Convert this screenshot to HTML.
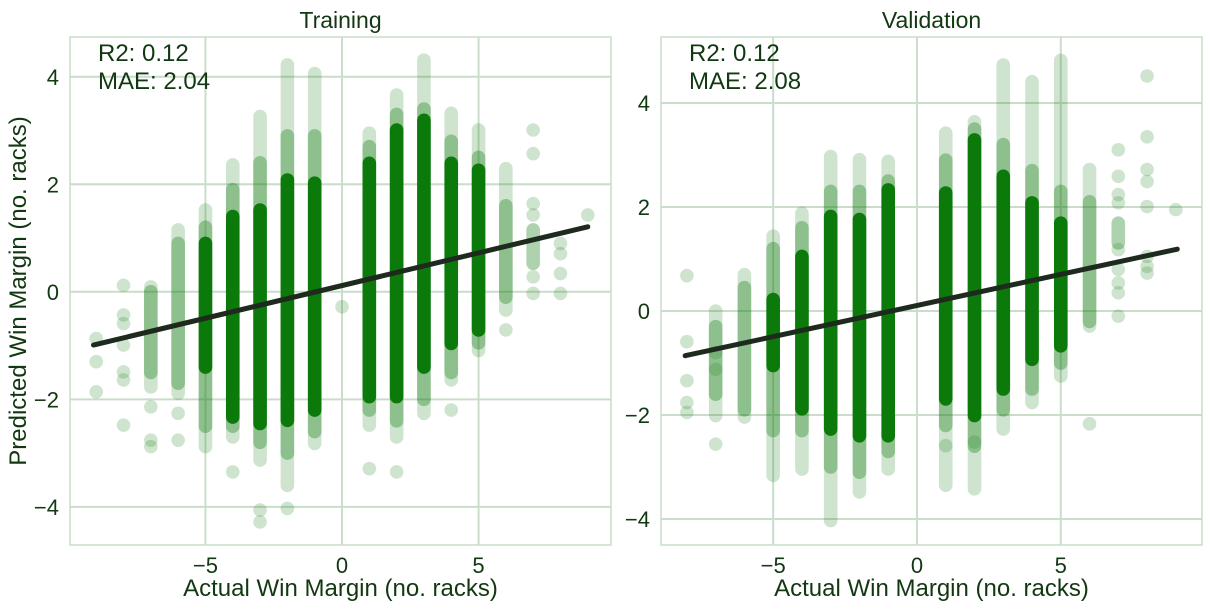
<!DOCTYPE html>
<html><head><meta charset="utf-8"><style>
body{margin:0;background:#fff;}
svg text{font-family:"Liberation Sans",sans-serif;fill:#123812;}
</style></head><body>
<svg id="chart" width="1211" height="611"></svg>
<script>
// ---- Training data ----
const trainX = [-9,-8,-7,-6,-5,-4,-3,-2,-1,0,1,2,3,4,5,6,7,8,9];
const trainFaintHi = [null,null,0.09,1.15,1.52,2.36,3.26,4.22,4.06,null,2.95,3.66,4.31,3.32,3.01,2.29,null,null,null];
const trainFaintLo = [null,null,-1.77,-1.89,-2.88,-2.70,-3.13,-3.6,-2.82,null,-2.48,-2.70,-2.26,-1.64,-1.09,-0.34,null,null,null];
const trainMidHi = [null,null,0.0,0.9,1.2,1.9,2.4,2.9,2.9,null,2.7,3.3,3.4,2.8,2.5,1.6,1.15,null,null];
const trainMidLo = [null,null,-1.5,-1.7,-2.5,-2.5,-2.8,-3.0,-2.6,null,-2.2,-2.4,-2.0,-1.5,-0.95,-0.1,0.53,null,null];
const trainCoreHi = [null,null,null,null,0.9,1.4,1.52,2.08,2.02,null,2.39,3.01,3.19,2.39,2.26,null,null,null,null];
const trainCoreLo = [null,null,null,null,-1.4,-2.33,-2.45,-2.39,-2.2,null,-1.95,-1.95,-1.40,-0.96,-0.71,null,null,null,null];
const trainOutX = [-9,-9,-9,-8,-8,-8,-8,-8,-8,-8,-7,-7,-7,-6,-6,-4,-3,-3,-2,0,1,2,4,6,7,7,7,7,7,7,8,8,8,8,9];
const trainOutY = [-0.87,-1.30,-1.86,0.12,-0.43,-0.59,-0.99,-1.49,-1.64,-2.48,-2.14,-2.76,-2.88,-2.26,-2.76,-3.35,-4.06,-4.28,-4.03,-0.28,-3.29,-3.35,-2.2,-0.71,3.01,2.57,1.64,1.43,0.28,-0.03,0.9,0.71,0.34,-0.03,1.43];
const trainFit = [-9.1, -0.99, 9.0, 1.21];
// ---- Validation data ----
const valX = [-8,-7,-6,-5,-4,-3,-2,-1,1,2,3,4,5,6,7,8,9];
const valFaintHi = [null,0,0.70,1.44,1.88,2.97,2.91,2.88,3.42,3.64,4.73,4.41,4.82,2.72,null,null,null];
const valFaintLo = [null,-2.01,-2.04,-3.16,-3.04,-4.03,-3.48,-3.04,-3.35,-3.42,-2.27,-1.76,-1.25,-0.29,null,null,null];
const valMidHi = [null,-0.3,0.45,1.2,1.6,2.3,2.3,2.5,2.9,3.5,3.2,2.7,2.3,2.1,1.69,null,null];
const valMidLo = [null,-1.6,-1.9,-2.3,-2.3,-3.0,-3.1,-2.7,-2.2,-2.6,-1.9,-1.5,-1.0,-0.2,1.31,null,null];
const valCoreHi = [null,null,null,0.22,1.05,1.82,1.76,2.33,2.27,3.29,2.59,2.08,1.69,null,null,null,null];
const valCoreLo = [null,null,null,-1.05,-1.88,-2.27,-2.4,-2.4,-1.69,-2.01,-1.50,-0.93,-0.67,null,null,null,null];
const valOutX = [-8,-8,-8,-8,-8,-7,-7,-7,1,2,6,7,7,7,7,7,7,7,7,7,8,8,8,8,8,8,8,8,9];
const valOutY = [0.68,-0.59,-1.34,-1.76,-1.95,-2.56,-1.12,-0.8,-2.59,-2.52,-2.17,3.1,2.59,2.24,2.08,1.18,0.8,0.54,0.35,-0.1,4.52,3.35,2.72,2.49,2.01,1.05,0.86,0.73,1.95];
const valFit = [-8.06, -0.86, 9.05, 1.19];
const xTicks = [-5,0,5];
const trainYTicks = [-4,-2,0,2,4];
const valYTicks = [-4,-2,0,2,4];

const NS="http://www.w3.org/2000/svg";
const svg=document.getElementById('chart');
function mk(tag,attrs,parent){const e=document.createElementNS(NS,tag);for(const k in attrs)e.setAttribute(k,attrs[k]);(parent||svg).appendChild(e);return e;}
const R=6.8;
function panel(cfg){
  const g=mk('g',{});
  
  
  const L=cfg.left,T=37,W=cfg.width,H=508;
  const sx=v=>L+(v-cfg.xmin)/(cfg.xmax-cfg.xmin)*W;
  const sy=v=>T+(cfg.ymax-v)/(cfg.ymax-cfg.ymin)*H;
  cfg.xt.forEach(t=>{
    const l=mk('line',{x1:sx(t),x2:sx(t),y1:T,y2:T+H,stroke:'#c9ddc9','stroke-width':2},g);
    
    const tx=mk('text',{x:sx(t),y:T+H+28,'text-anchor':'middle','font-size':22},g);
    tx.textContent=t<0?'\u2212'+Math.abs(t):t;
    
  });
  cfg.yt.forEach(t=>{
    const l=mk('line',{x1:L,x2:L+W,y1:sy(t),y2:sy(t),stroke:'#c9ddc9','stroke-width':2},g);
    
    const tx=mk('text',{x:L-11,y:sy(t)+8,'text-anchor':'end','font-size':22},g);
    tx.textContent=t<0?'\u2212'+Math.abs(t):t;
    
  });
  const fr=mk('rect',{x:L,y:T,width:W,height:H,fill:'none',stroke:'#c9ddc9','stroke-width':1.5},g);
  
  function bar(x,hi,lo,fill,name){
    if(hi==null)return;
    const r=mk('rect',{x:sx(x)-R,y:sy(hi)-R,width:2*R,height:sy(lo)-sy(hi)+2*R,rx:R,fill:fill},g);
    
  }
  cfg.X.forEach((x,i)=>bar(x,cfg.fh[i],cfg.fl[i],'rgba(30,130,30,0.22)','faint-point-column'));
  cfg.X.forEach((x,i)=>bar(x,cfg.mh[i],cfg.ml[i],'rgba(20,125,20,0.35)','mid-point-column'));
  cfg.X.forEach((x,i)=>bar(x,cfg.ch[i],cfg.cl[i],'#0b7a0b','dense-point-column'));
  cfg.ox.forEach((x,i)=>{
    const c=mk('circle',{cx:sx(x),cy:sy(cfg.oy[i]),r:R,fill:'rgba(30,130,30,0.22)'},g);
    
  });
  const f=cfg.fit;
  const ln=mk('line',{x1:sx(f[0]),y1:sy(f[1]),x2:sx(f[2]),y2:sy(f[3]),stroke:'#1e2a1e','stroke-width':5,'stroke-linecap':'round'},g);
  
  const t1=mk('text',{x:L+28,y:T+24,'font-size':24},g);t1.textContent=cfg.r2;
  
  const t2=mk('text',{x:L+28,y:T+52,'font-size':24},g);t2.textContent=cfg.mae;
  
  const ti=mk('text',{x:L+W/2,y:28,'text-anchor':'middle','font-size':23},g);ti.textContent=cfg.title;
  
  const xl=mk('text',{x:L+W/2,y:596,'text-anchor':'middle','font-size':24},g);xl.textContent='Actual Win Margin (no. racks)';
  
}
panel({name:'training-panel',title:'Training',left:70,width:541,xmin:-9.96,xmax:9.85,ymin:-4.71,ymax:4.74,xt:xTicks,yt:trainYTicks,
  X:trainX,fh:trainFaintHi,fl:trainFaintLo,mh:trainMidHi,ml:trainMidLo,ch:trainCoreHi,cl:trainCoreLo,ox:trainOutX,oy:trainOutY,fit:trainFit,r2:'R2: 0.12',mae:'MAE: 2.04'});
panel({name:'validation-panel',title:'Validation',left:661,width:541,xmin:-8.9,xmax:9.91,ymin:-4.5,ymax:5.27,xt:xTicks,yt:valYTicks,
  X:valX,fh:valFaintHi,fl:valFaintLo,mh:valMidHi,ml:valMidLo,ch:valCoreHi,cl:valCoreLo,ox:valOutX,oy:valOutY,fit:valFit,r2:'R2: 0.12',mae:'MAE: 2.08'});
const yl=mk('text',{x:0,y:0,'text-anchor':'middle','font-size':24,transform:'translate(26,291) rotate(-90)'});
yl.textContent='Predicted Win Margin (no. racks)';


</script>
</body></html>
